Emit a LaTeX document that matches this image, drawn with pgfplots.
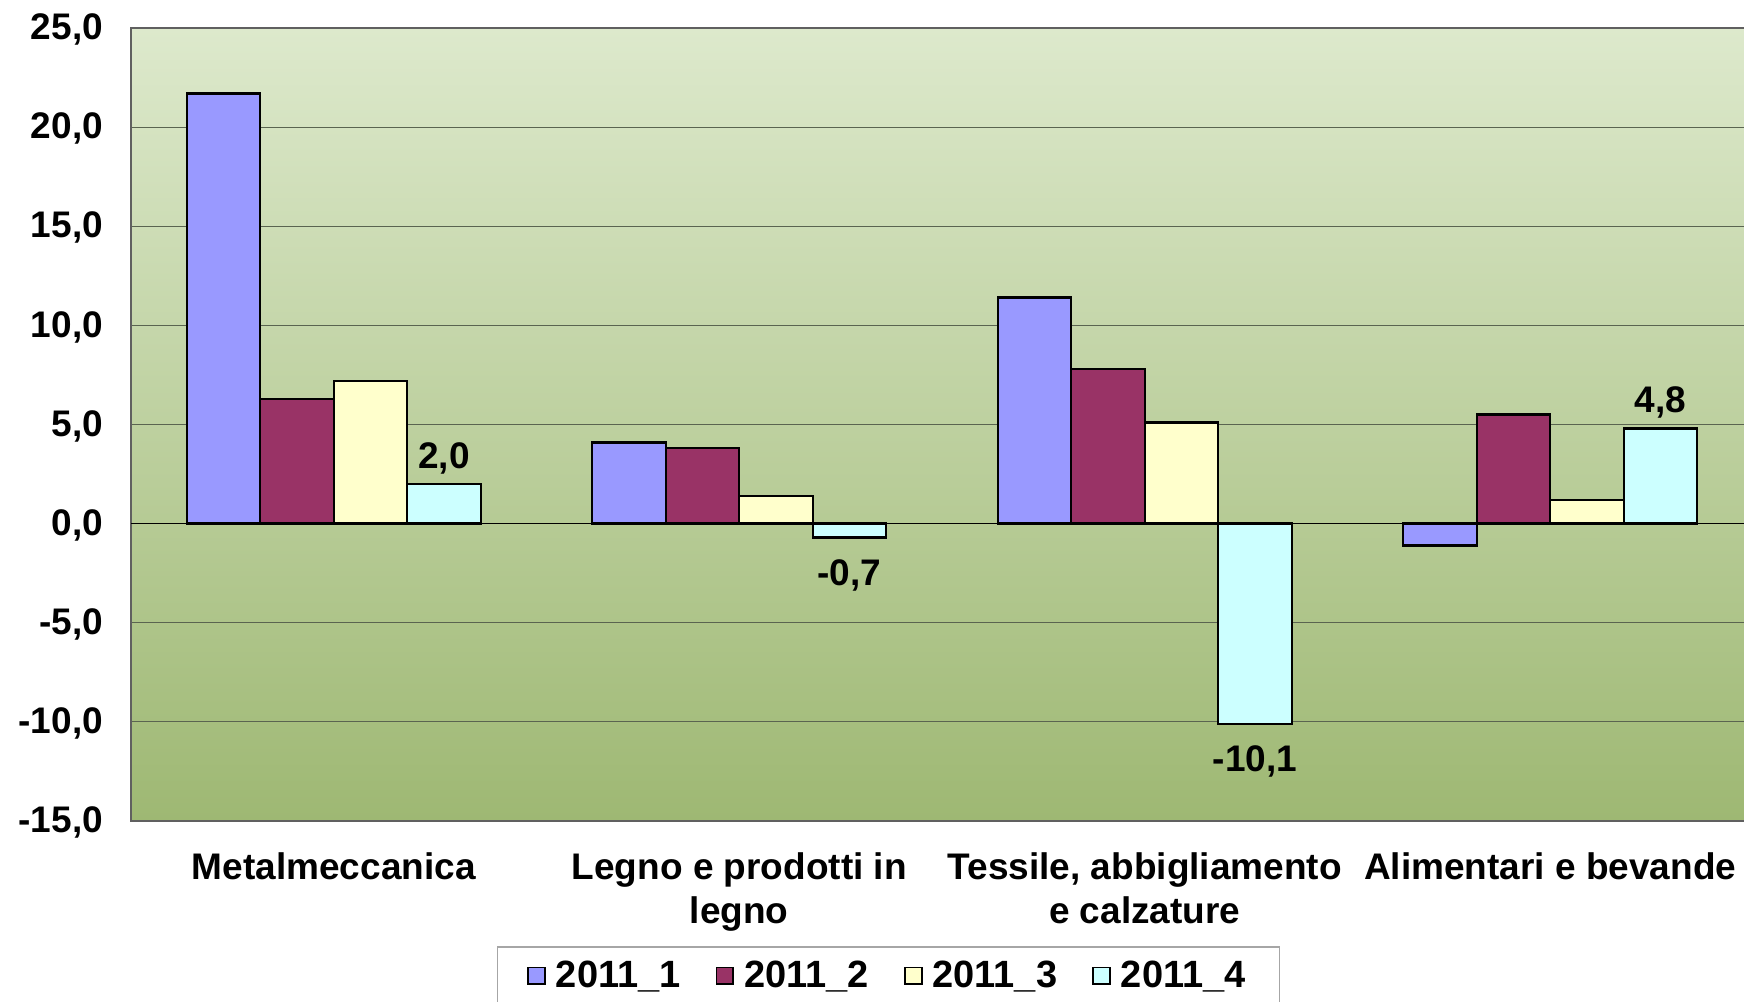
\documentclass[border=0pt]{standalone}
\usepackage{pgfplots}
\pgfplotsset{compat=1.18}
\usepackage{fontspec}
\setmainfont{Liberation Sans}
\definecolor{c1}{HTML}{9999FF}
\definecolor{c2}{HTML}{993366}
\definecolor{c3}{HTML}{FFFFCC}
\definecolor{c4}{HTML}{CCFFFF}
\definecolor{bgtop}{HTML}{DDE9CC}
\definecolor{bgbot}{HTML}{9EB873}
\definecolor{gridc}{HTML}{5A6450}
\newcommand{\bigbf}{\fontsize{18.5}{22}\selectfont\bfseries}
\begin{document}
\begin{tikzpicture}
\begin{axis}[name=ax,
  scale only axis, width=811pt, height=396.5pt,
  xmin=-0.5, xmax=3.5, ymin=-15, ymax=25,
  ytick={-15,-10,...,25},
  xtick={0,1,2,3},
  xticklabels={Metalmeccanica,{Legno e prodotti in\\legno},{Tessile, abbigliamento\\e calzature},Alimentari e bevande},
  xticklabel style={align=center, font=\bigbf, yshift=-12.3pt},
  yticklabel style={font=\bigbf, xshift=-10.5pt, yshift=-0.8pt},
  /pgf/number format/.cd, fixed, fixed zerofill, precision=1, use comma, assume math mode=true,
  /pgfplots/.cd,
  major tick length=0pt,
  ybar=0pt, bar width=36.75pt,
  ymajorgrids, major grid style={gridc, line width=0.6pt},
  axis background/.style={shade, top color=bgtop, bottom color=bgbot},
  axis line style={gray!75!black, line width=1pt},
  legend columns=4,
  legend style={at={(0.467,-0.19)}, anchor=north, yshift=12.7pt, draw=gray!70, line width=0.8pt, fill=white,
    font=\fontsize{19}{22}\selectfont\bfseries, inner xsep=15pt, inner ysep=5pt,
    /tikz/every even column/.append style={column sep=15.5pt},
    /tikz/every odd column/.append style={column sep=3pt}},
  sq/.style={legend image code/.code={\draw[##1,draw=black,line width=0.9pt] (0pt,-4.2pt) rectangle (8.4pt,4.2pt);}},
]
\draw[black, line width=0.6pt] (axis cs:-0.5,0) -- (axis cs:3.5,0);
\addplot[fill=c1, draw=black, line width=1.2pt, sq] coordinates {(0,21.7) (1,4.1) (2,11.4) (3,-1.1)};
\addplot[fill=c2, draw=black, line width=1.2pt, sq] coordinates {(0,6.3) (1,3.8) (2,7.8) (3,5.5)};
\addplot[fill=c3, draw=black, line width=1.2pt, sq] coordinates {(0,7.2) (1,1.4) (2,5.1) (3,1.2)};
\addplot[fill=c4, draw=black, line width=1.2pt, sq, nodes near coords,
  visualization depends on=rawy \as \yv,
  every node near coord/.append style={font=\bigbf, black, yshift={ifthenelse(\yv<0,-7pt,1pt)}}]
  coordinates {(0,2.0) (1,-0.7) (2,-10.1) (3,4.8)};
\legend{2011\_1,2011\_2,2011\_3,2011\_4}
\end{axis}
\pgfresetboundingbox
\path[use as bounding box] ([shift={(-65.5pt,-90pt)}]ax.south west) rectangle ([shift={(-4.5pt,14pt)}]ax.north east);
\end{tikzpicture}
\end{document}
